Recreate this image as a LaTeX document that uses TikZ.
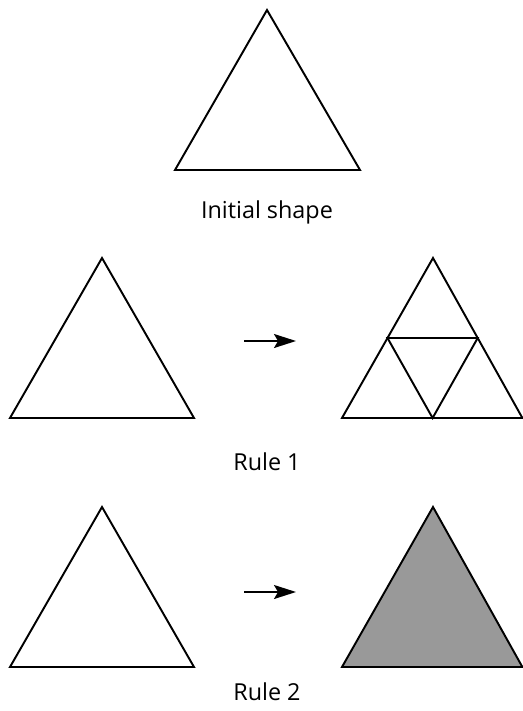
\documentclass[tikz,border=0pt]{standalone}
\usepackage{fontspec}
\setmainfont{Open Sans}
\usetikzlibrary{arrows.meta, positioning}
\definecolor{cgrey}{HTML}{999999}
\tikzset{
  every picture/.style={line width=1.1pt},
  tri/.style={draw=black, line join=miter},
  filled/.style={tri, fill=cgrey},
  arrow/.style={-{Stealth[length=4.4mm, width=2.8mm, inset=0.8mm]}, draw=black, line width=1pt},
  caption/.style={font=\fontsize{13.3}{15}\selectfont},
}

\begin{document}
\begin{tikzpicture}[x=0.02cm, y=-0.02cm]
  \useasboundingbox (0,0) rectangle (523,711);

  % initial shape
  \draw[tri] (175,170) -- (267,10) -- (360,170) -- cycle;
  \node[caption] (init) at (267,212) {Initial shape};

  % rule 1
  \draw[tri] (10,418) -- (102,258) -- (194,418) -- cycle;
  \coordinate (a1) at (244,341);
  \coordinate (b1) at (296,341);
  \draw[arrow] (a1) -- (b1);
  \draw[tri] (342,418) -- (433,258) -- (522.4,418) -- cycle;
  \draw[tri] (387.5,338) -- (477.7,338) -- (432.6,418) -- cycle;
  \node[caption] (r1) at (267,462) {Rule 1};

  % rule 2
  \draw[tri] (10,667) -- (102,507) -- (194,667) -- cycle;
  \coordinate (a2) at (244,592);
  \coordinate (b2) at (296,592);
  \draw[arrow] (a2) -- (b2);
  \draw[filled] (342,667) -- (433,507) -- (522.4,667) -- cycle;
  \node[caption] (r2) at (267,692) {Rule 2};
\end{tikzpicture}
\end{document}
